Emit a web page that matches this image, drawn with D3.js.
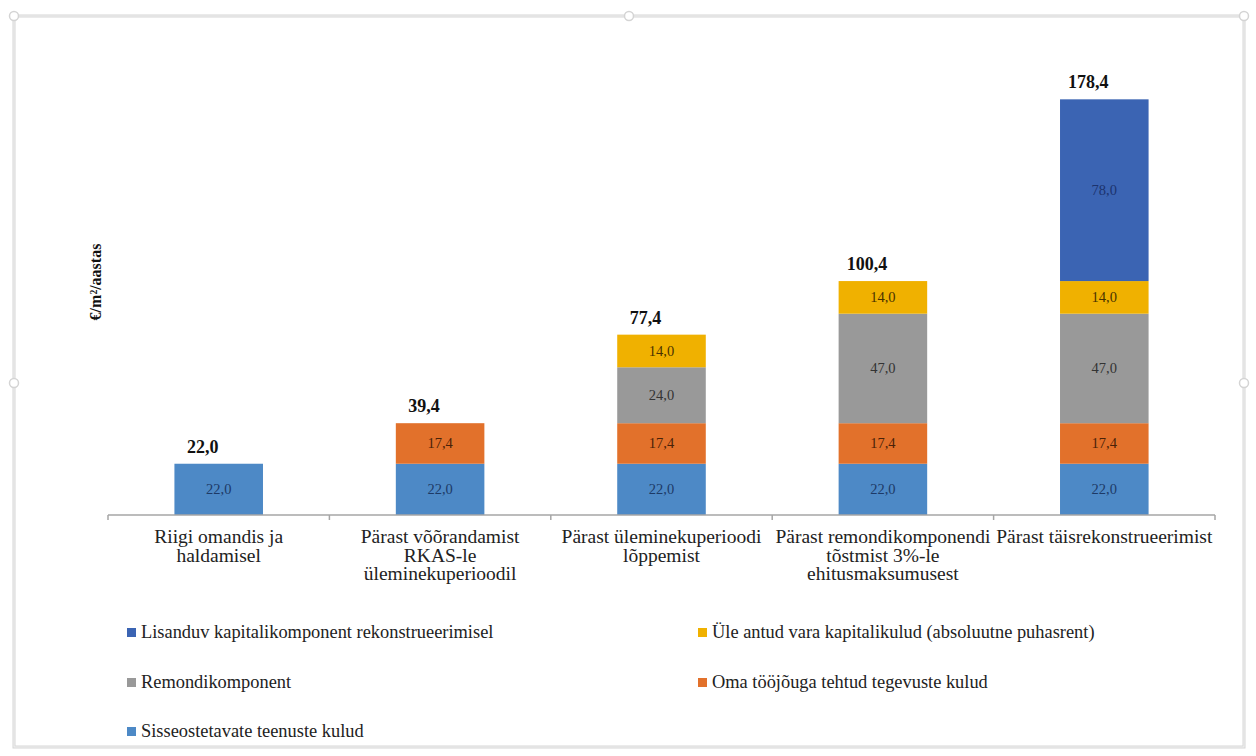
<!DOCTYPE html>
<html>
<head>
<meta charset="utf-8">
<script src="https://cdn.jsdelivr.net/npm/d3@7"></script>
<style>
  body { margin: 0; background: #fff; }
</style>
</head>
<body>
<div id="chart"></div>
<script>
// categories (x axis), one array per line of label
const categories = [
  ['Riigi omandis ja', 'haldamisel'],
  ['Pärast võõrandamist', 'RKAS-le', 'üleminekuperioodil'],
  ['Pärast üleminekuperioodi', 'lõppemist'],
  ['Pärast remondikomponendi', 'tõstmist 3%-le', 'ehitusmaksumusest'],
  ['Pärast täisrekonstrueerimist']
]

// series, stacked from bottom to top
const seriesNames = [
  'Sisseostetavate teenuste kulud',
  'Oma tööjõuga tehtud tegevuste kulud',
  'Remondikomponent',
  'Üle antud vara kapitalikulud (absoluutne puhasrent)',
  'Lisanduv kapitalikomponent rekonstrueerimisel'
]
const teenused = [22.0, 22.0, 22.0, 22.0, 22.0]
const toojoud = [0, 17.4, 17.4, 17.4, 17.4]
const remont = [0, 0, 24.0, 47.0, 47.0]
const kapitalikulud = [0, 0, 14.0, 14.0, 14.0]
const lisanduv = [0, 0, 0, 0, 78.0]

const seriesColors = ['#4d89c6', '#e2712b', '#999999', '#f0b100', '#3b64b3']
const labelColors = ['#1d3a66', '#4a2208', '#333333', '#4a3300', '#1c336e']

// legend order as in the picture (two columns)
const legendOrder = [4, 3, 2, 1, 0]

const width = 1256, height = 756
const margins = { top: 49, right: 41, bottom: 241, left: 108 }
const serif = '"Liberation Serif", "DejaVu Serif", "Times New Roman", serif'

const svg = d3.select('#chart').append('svg')
  .attr('width', width)
  .attr('height', height)
  .attr('font-family', serif)

// chart frame with selection handles
svg.append('rect')
  .attr('x', 14).attr('y', 16)
  .attr('width', 1230).attr('height', 731)
  .attr('fill', 'none')
  .attr('stroke', '#d6d6d6')
  .attr('stroke-width', 3)
svg.append('rect')
  .attr('x', 14).attr('y', 16)
  .attr('width', 1230).attr('height', 731)
  .attr('fill', 'none')
  .attr('stroke', '#f2f2f2')
  .attr('stroke-width', 1)
const handles = [[14, 16], [629, 16], [1244, 16], [14, 383], [1244, 383]]
svg.selectAll('circle.handle').data(handles).enter().append('circle')
  .attr('class', 'handle')
  .attr('cx', d => d[0]).attr('cy', d => d[1])
  .attr('r', 4.5)
  .attr('fill', '#fff')
  .attr('stroke', '#d4d4d4')
  .attr('stroke-width', 1.5)

const locale = d3.formatLocale({ decimal: ',', thousands: ' ', grouping: [3], currency: ['', '€'] })
const fmt = locale.format('.1f')

const rows = categories.map((c, i) => ({
  i: i,
  teenused: teenused[i],
  toojoud: toojoud[i],
  remont: remont[i],
  kapitalikulud: kapitalikulud[i],
  lisanduv: lisanduv[i]
}))
const keys = ['teenused', 'toojoud', 'remont', 'kapitalikulud', 'lisanduv']
const stacked = d3.stack().keys(keys)(rows)

const xScale = d3.scaleBand()
  .domain(d3.range(categories.length))
  .range([margins.left, width - margins.right])
  .paddingInner(0.6)
  .paddingOuter(0.3)

const yScale = d3.scaleLinear()
  .domain([0, 200])
  .range([height - margins.bottom, margins.top])

const chart = svg.append('g')

// bars
stacked.forEach((layer, k) => {
  const g = chart.append('g')
  const segs = layer.filter(d => d[1] - d[0] > 0)
  g.selectAll('rect').data(segs).enter().append('rect')
    .attr('x', d => xScale(d.data.i))
    .attr('width', xScale.bandwidth())
    .attr('y', d => yScale(d[1]))
    .attr('height', d => yScale(d[0]) - yScale(d[1]))
    .attr('fill', seriesColors[k])
  g.selectAll('text').data(segs).enter().append('text')
    .attr('x', d => xScale(d.data.i) + xScale.bandwidth() / 2)
    .attr('y', d => (yScale(d[0]) + yScale(d[1])) / 2 + 5)
    .attr('text-anchor', 'middle')
    .attr('font-size', 14.5)
    .attr('fill', labelColors[k])
    .text(d => fmt(d[1] - d[0]))
})

// totals
const totals = rows.map(r => d3.sum(keys, k => r[k]))
chart.selectAll('text.total').data(totals).enter().append('text')
  .attr('class', 'total')
  .attr('x', (d, i) => xScale(i) + xScale.bandwidth() / 2 - 16)
  .attr('y', d => yScale(d) - 11)
  .attr('text-anchor', 'middle')
  .attr('font-size', 18)
  .attr('font-weight', 'bold')
  .attr('fill', '#111')
  .text(d => fmt(d))

// x axis line and boundary ticks
const y0 = yScale(0)
const x0 = margins.left
const step = xScale.step()
chart.append('line')
  .attr('x1', x0).attr('x2', width - margins.right)
  .attr('y1', y0).attr('y2', y0)
  .attr('stroke', '#a6a6a6')
  .attr('stroke-width', 1.5)
chart.selectAll('line.tick').data(d3.range(categories.length + 1)).enter().append('line')
  .attr('class', 'tick')
  .attr('x1', i => x0 + i * step).attr('x2', i => x0 + i * step)
  .attr('y1', y0).attr('y2', y0 + 5)
  .attr('stroke', '#a6a6a6')
  .attr('stroke-width', 1.5)

// category labels
const catLabels = chart.selectAll('text.cat').data(categories).enter().append('text')
  .attr('class', 'cat')
  .attr('text-anchor', 'middle')
  .attr('font-size', 19.5)
  .attr('fill', '#222')
catLabels.each(function (lines, i) {
  d3.select(this).selectAll('tspan').data(lines).enter().append('tspan')
    .attr('x', xScale(i) + xScale.bandwidth() / 2)
    .attr('y', (d, j) => y0 + 28 + j * 18.5)
    .text(d => d)
})

// y axis title
svg.append('text')
  .attr('transform', 'translate(101,282) rotate(-90)')
  .attr('text-anchor', 'middle')
  .attr('font-size', 16)
  .attr('font-weight', 'bold')
  .attr('fill', '#111')
  .text('€/m²/aastas')

// legend
const legendCols = [127, 698]
const legendRows = [632, 682, 731]
const legend = svg.selectAll('g.legend').data(legendOrder).enter().append('g')
  .attr('class', 'legend')
  .attr('transform', (d, n) => `translate(${legendCols[n % 2]},${legendRows[Math.floor(n / 2)]})`)
legend.append('rect')
  .attr('x', 0).attr('y', -4)
  .attr('width', 9).attr('height', 9)
  .attr('fill', d => seriesColors[d])
legend.append('text')
  .attr('x', 14).attr('y', 6)
  .attr('font-size', 18.4)
  .attr('fill', '#222')
  .text(d => seriesNames[d])
</script>
</body>
</html>
